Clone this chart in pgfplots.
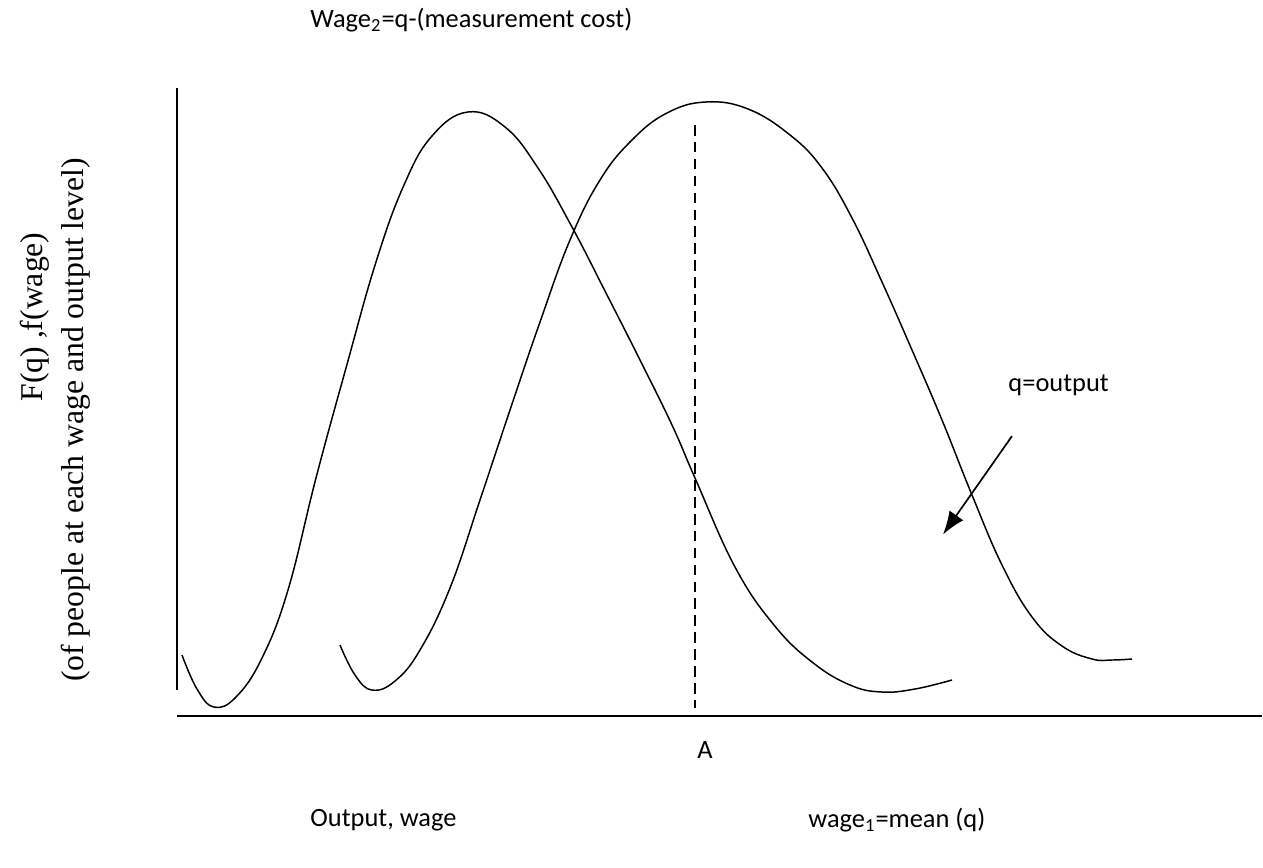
\documentclass[border=0pt]{standalone}
\usepackage{pgfplots}
\pgfplotsset{compat=1.18}
\usetikzlibrary{arrows.meta}
\usepackage{fontspec}
\setmainfont{Carlito}
\newfontfamily\timesfont{Liberation Serif}
\begin{document}
\begin{tikzpicture}
\begin{axis}[scale only axis, width=21cm, height=14.416cm,
  xmin=0, xmax=1263, ymin=0, ymax=867, y dir=reverse,
  hide axis, clip=false]
\path (rel axis cs:0,0) (rel axis cs:1,1);
% axes
\addplot[black, line width=0.9pt] coordinates {(177,88) (177,690)};
\addplot[black, line width=0.9pt] coordinates {(177,716) (1262,716)};
% dashed
\addplot[black, line width=0.8pt, dash pattern=on 5pt off 3pt] coordinates {(695,125) (695,708)};
% curve 1
\addplot[black, line width=0.7pt, smooth, tension=0.7] coordinates {
(182,655) (197,689) (214,707) (236,697) (262,658) (288,590) (316,478) (346,368)
(376,262) (404,185) (432,136) (468,112) (505,127) (538,168) (572,227) (606,293)
(640,360) (672,425) (695,478) (735,567) (774,625) (812,662) (850,685) (882,692)
(915,689) (952,680)};
% curve 2
\addplot[black, line width=0.7pt, smooth, tension=0.7] coordinates {
(340,645) (355,675) (372,690) (395,681) (420,650) (450,588) (480,500) (510,410)
(540,322) (570,240) (600,180) (632,140) (667,113) (706,102) (748,109) (790,135)
(822,168) (852,218) (882,282) (912,350) (942,420) (972,495) (1002,565) (1032,617)
(1062,646) (1092,659) (1112,660) (1132,659)};
% arrow
\addplot[black, line width=0.8pt, -{Latex[length=11pt,width=8pt]}] coordinates {(1011.9,436.2) (943,534.5)};
% texts
\node[anchor=west, font=\fontsize{12.5}{15}\selectfont] at (axis cs:303,20) {Wage\textsubscript{2}=q-(measurement cost)};
\node[anchor=west, font=\fontsize{12.5}{15}\selectfont] at (axis cs:1001,385) {q=output};
\node[font=\fontsize{12.5}{15}\selectfont] at (axis cs:705,750) {A};
\node[anchor=west, font=\fontsize{12.5}{15}\selectfont] at (axis cs:303,820) {Output, wage};
\node[anchor=west, font=\fontsize{12.5}{15}\selectfont] at (axis cs:801,820) {wage\textsubscript{1}=mean (q)};
\node[rotate=90, font=\timesfont\fontsize{15}{18}\selectfont] at (axis cs:35,317) {F(q) ,f(wage)};
\node[rotate=90, font=\timesfont\fontsize{15}{18}\selectfont] at (axis cs:76,420) {(of people at each wage and output level)};
\end{axis}
\end{tikzpicture}
\end{document}
